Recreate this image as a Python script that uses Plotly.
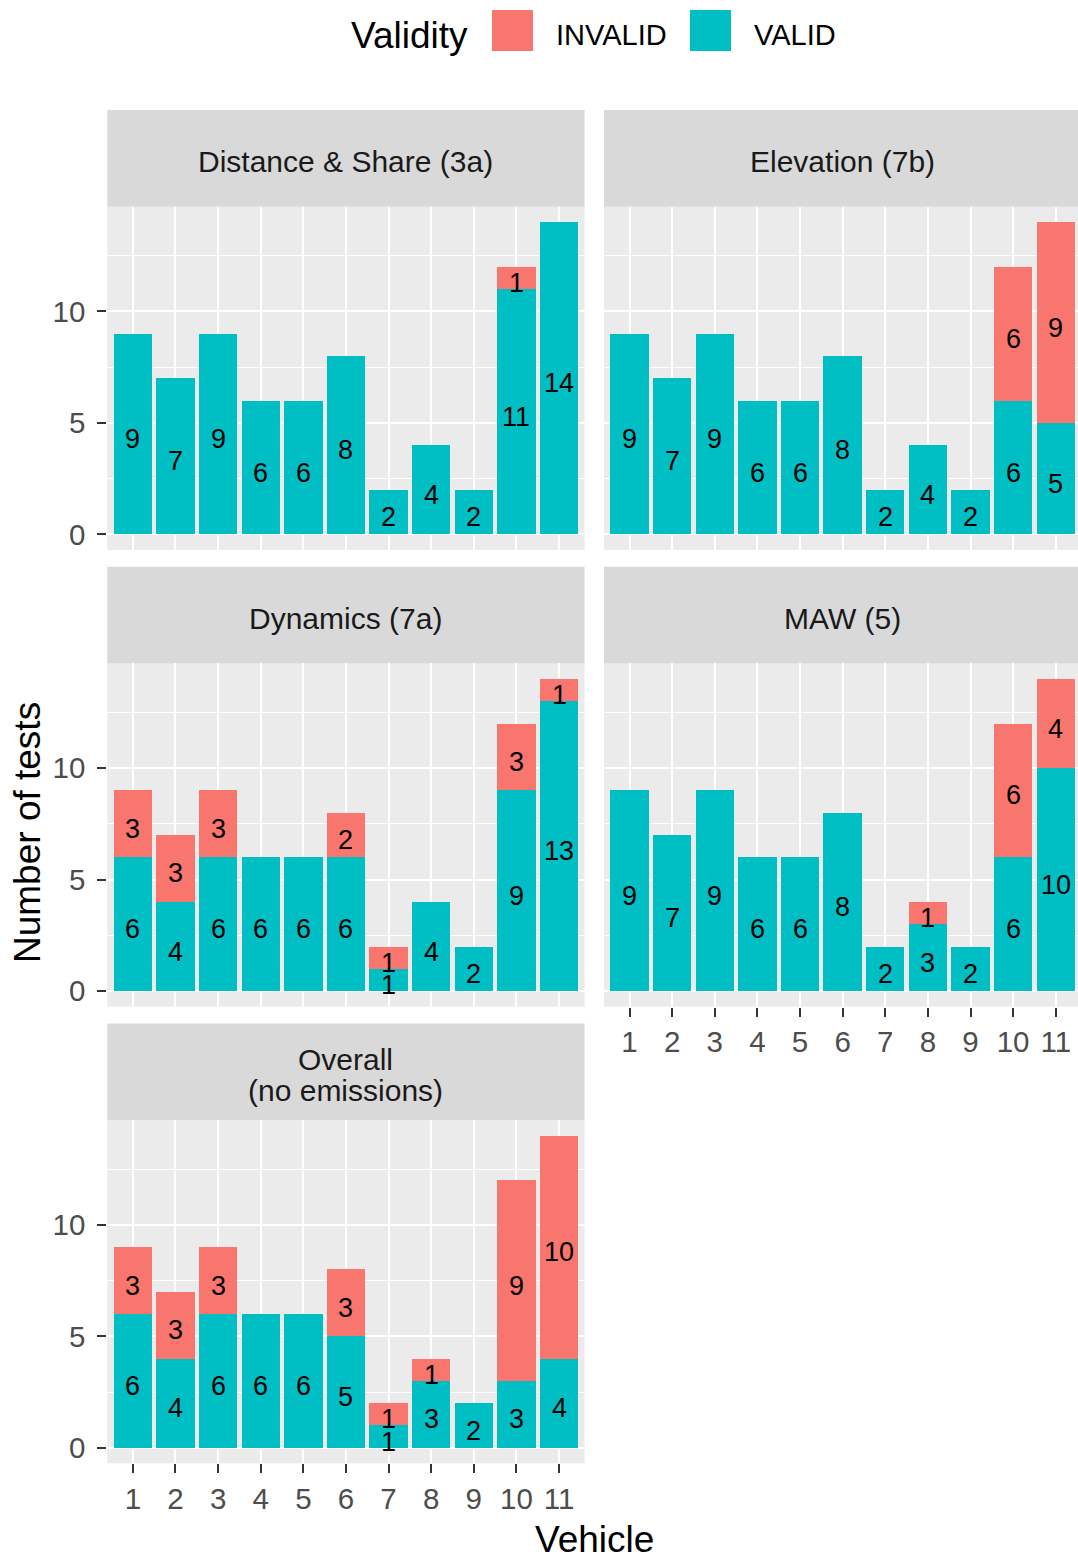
import plotly.graph_objects as go

# ---- data -------------------------------------------------------------
vehicles = list(range(1, 12))
vehicle_labels = [str(v) for v in vehicles]
y_tick_vals = [0, 5, 10]
y_minor_vals = [2.5, 7.5, 12.5]

panel_titles = [
    ["Distance & Share (3a)"],
    ["Elevation (7b)"],
    ["Dynamics (7a)"],
    ["MAW (5)"],
    ["Overall", "(no emissions)"],
]

valid_distance = [9, 7, 9, 6, 6, 8, 2, 4, 2, 11, 14]
invalid_distance = [0, 0, 0, 0, 0, 0, 0, 0, 0, 1, 0]

valid_elevation = [9, 7, 9, 6, 6, 8, 2, 4, 2, 6, 5]
invalid_elevation = [0, 0, 0, 0, 0, 0, 0, 0, 0, 6, 9]

valid_dynamics = [6, 4, 6, 6, 6, 6, 1, 4, 2, 9, 13]
invalid_dynamics = [3, 3, 3, 0, 0, 2, 1, 0, 0, 3, 1]

valid_maw = [9, 7, 9, 6, 6, 8, 2, 3, 2, 6, 10]
invalid_maw = [0, 0, 0, 0, 0, 0, 0, 1, 0, 6, 4]

valid_overall = [6, 4, 6, 6, 6, 5, 1, 3, 2, 3, 4]
invalid_overall = [3, 3, 3, 0, 0, 3, 1, 1, 0, 9, 10]

panel_valid = [valid_distance, valid_elevation, valid_dynamics, valid_maw, valid_overall]
panel_invalid = [invalid_distance, invalid_elevation, invalid_dynamics, invalid_maw, invalid_overall]

# ---- geometry (pixels) ------------------------------------------------
W, H = 1078, 1561
COLS = [(107.3, 584.6), (604.0, 1081.3)]
STRIP_TOPS = [110.0, 566.7, 1023.4]
STRIP_H = 96.7
PLOT_H = 343.3
X_LO, X_HI = 0.4, 11.6
Y_RANGE = [-0.7, 14.7]

panel_cells = [(0, 0), (0, 1), (1, 0), (1, 1), (2, 0)]
x_axis_labelled = [False, False, False, True, True]

FONT = "Liberation Sans, Arial, sans-serif"
C_VALID = "#00BFC4"
C_INVALID = "#F8766D"
C_STRIP = "#D9D9D9"
C_PANEL = "#EBEBEB"
C_TICKTXT = "#4D4D4D"
C_TICK = "#333333"


def px_x(p):
    return p / W


def px_y(p):
    return 1 - p / H


fig = go.Figure()
layout = dict(
    width=W, height=H,
    margin=dict(l=0, r=0, t=0, b=0),
    paper_bgcolor="white",
    plot_bgcolor=C_PANEL,
    barmode="stack",
    bargap=0.1,
    showlegend=False,
    font=dict(family=FONT, color="black"),
)
shapes = []
annotations = []

for i, (row, col) in enumerate(panel_cells):
    suffix = "" if i == 0 else str(i + 1)
    xref, yref = "x" + suffix, "y" + suffix
    x0, x1 = COLS[col]
    unit = (x1 - x0) / (X_HI - X_LO)
    x1_vis = min(x1, W)
    strip_top = STRIP_TOPS[row]
    plot_top = strip_top + STRIP_H
    plot_bot = plot_top + PLOT_H

    layout["xaxis" + suffix] = dict(
        domain=[px_x(x0), px_x(x1_vis)],
        range=[X_LO, X_LO + (x1_vis - x0) / unit],
        anchor=yref,
        tickmode="array", tickvals=vehicles, ticktext=vehicle_labels,
        showgrid=True, gridcolor="white", gridwidth=2.3,
        zeroline=False, showline=False,
        showticklabels=x_axis_labelled[i],
        ticks="outside" if x_axis_labelled[i] else "",
        ticklen=9, tickwidth=2, tickcolor=C_TICK,
        tickfont=dict(size=29.5, color=C_TICKTXT, family=FONT),
        ticklabelstandoff=0,
        fixedrange=True,
    )
    layout["yaxis" + suffix] = dict(
        domain=[px_y(plot_bot), px_y(plot_top)],
        range=Y_RANGE,
        anchor=xref,
        tickmode="array", tickvals=y_tick_vals,
        showgrid=True, gridcolor="white", gridwidth=2.3,
        minor=dict(tickmode="array", tickvals=y_minor_vals, showgrid=True,
                   gridcolor="white", gridwidth=1.2, ticks=""),
        zeroline=False, showline=False,
        showticklabels=(col == 0),
        ticks="outside" if col == 0 else "",
        ticklen=9, tickwidth=2, tickcolor=C_TICK,
        tickfont=dict(size=29.5, color=C_TICKTXT, family=FONT),
        ticklabelstandoff=6,
        fixedrange=True,
    )

    valid = panel_valid[i]
    invalid = panel_invalid[i]
    fig.add_trace(go.Bar(x=vehicles, y=valid, width=0.9, marker=dict(color=C_VALID, line=dict(width=0)),
                         name="VALID", xaxis=xref, yaxis=yref, hoverinfo="skip"))
    fig.add_trace(go.Bar(x=vehicles, y=invalid, width=0.9, marker=dict(color=C_INVALID, line=dict(width=0)),
                         name="INVALID", xaxis=xref, yaxis=yref, hoverinfo="skip"))

    # count labels centred in each stacked segment
    for v, nv, ni in zip(vehicles, valid, invalid):
        for count, base in ((nv, 0), (ni, nv)):
            if count > 0:
                annotations.append(dict(
                    x=v, y=base + count / 2, xref=xref, yref=yref,
                    text=str(count), showarrow=False,
                    xanchor="center", yanchor="middle", yshift=-5,
                    font=dict(size=27, color="black", family=FONT),
                ))

    # facet strip
    shapes.append(dict(type="rect", xref="paper", yref="paper",
                       x0=px_x(x0), x1=px_x(x1_vis), y0=px_y(plot_top), y1=px_y(strip_top),
                       fillcolor=C_STRIP, line=dict(width=0), layer="below"))
    title_lines = panel_titles[i]
    cx = (x0 + x1) / 2
    if len(title_lines) == 1:
        centers = [strip_top + STRIP_H / 2 + 3]
    else:
        mid = strip_top + STRIP_H / 2 + 3
        centers = [mid - 15.75, mid + 15.75]
    for line, cy in zip(title_lines, centers):
        annotations.append(dict(
            x=px_x(cx), y=px_y(cy), xref="paper", yref="paper",
            text=line, showarrow=False, xanchor="center", yanchor="middle",
            font=dict(size=30, color="#1A1A1A", family=FONT),
        ))

# axis titles
annotations.append(dict(x=px_x(594.5), y=px_y(1539), xref="paper", yref="paper",
                        text="Vehicle", showarrow=False, xanchor="center", yanchor="middle",
                        font=dict(size=37, color="black", family=FONT)))
annotations.append(dict(x=px_x(27.5), y=px_y(832.5), xref="paper", yref="paper",
                        text="Number of tests", showarrow=False, textangle=-90,
                        xanchor="center", yanchor="middle",
                        font=dict(size=37, color="black", family=FONT)))

# legend
annotations.append(dict(x=px_x(349), y=px_y(35.5), xref="paper", yref="paper",
                        text="Validity", showarrow=False, xanchor="left", yanchor="middle",
                        font=dict(size=37, color="black", family=FONT)))
legend_items = [("INVALID", C_INVALID, 492, 554), ("VALID", C_VALID, 690, 752)]
for label, color, kx, tx in legend_items:
    shapes.append(dict(type="rect", xref="paper", yref="paper",
                       x0=px_x(kx), x1=px_x(kx + 41), y0=px_y(51), y1=px_y(10),
                       fillcolor=color, line=dict(width=0)))
    annotations.append(dict(x=px_x(tx), y=px_y(34.5), xref="paper", yref="paper",
                            text=label, showarrow=False, xanchor="left", yanchor="middle",
                            font=dict(size=29, color="black", family=FONT)))

layout["shapes"] = shapes
layout["annotations"] = annotations
fig.update_layout(**layout)

fig.write_html("out.html")
